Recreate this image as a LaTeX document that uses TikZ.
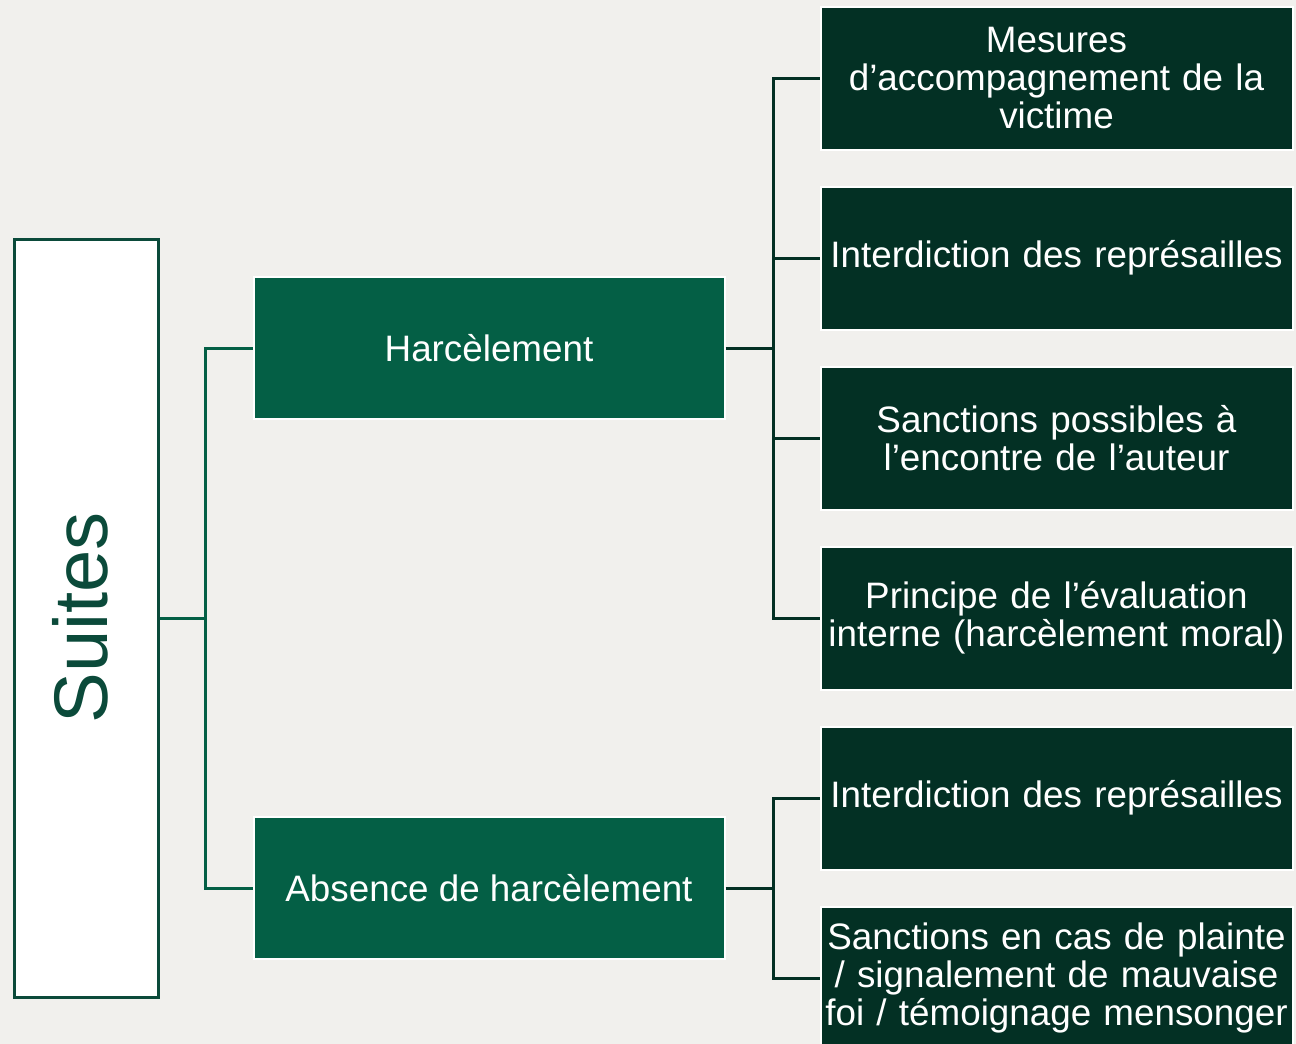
\documentclass[tikz,border=0pt]{standalone}
\usepackage{fontspec}
\setmainfont{Liberation Sans}
\definecolor{bg}{HTML}{F1F0ED}
\definecolor{midgreen}{HTML}{045F45}
\definecolor{darkgreen}{HTML}{033024}
\definecolor{suitegreen}{HTML}{0B4A3A}
\begin{document}
\begin{tikzpicture}[x=1pt,y=-1pt,
  suitesbox/.style={draw=suitegreen,line width=3pt,fill=white,minimum width=144pt,minimum height=758pt,inner sep=0pt},
  midbox/.style={draw=white,line width=2pt,fill=midgreen,minimum width=471pt,minimum height=142pt,inner sep=0pt,text=white,font=\fontsize{36.8}{38}\selectfont},
  rbox/.style={draw=white,line width=2pt,fill=darkgreen,minimum width=472pt,minimum height=143pt,inner sep=0pt,text=white,text width=472pt,align=center,font=\fontsize{36.8}{38}\selectfont},
  lconn/.style={draw=midgreen,line width=3pt},
  rconn/.style={draw=darkgreen,line width=3pt}]
\clip (0,0) rectangle (1296,1044);
\fill[bg] (0,0) rectangle (1296,1044);
\node[suitesbox] (s) at (86,618) {};
\node[rotate=90,text=suitegreen,font=\fontsize{76}{80}\selectfont,inner sep=0pt] (st) at (80,618) {Suites};
\node[midbox] (h) at (489,348) {Harcèlement};
\node[midbox] (a) at (489,888) {Absence de harcèlement};
\node[rbox] (r1) at (1056.5,78) {Mesures\\d’accompagnement de la\\victime};
\node[rbox] (r2) at (1056.5,258) {Interdiction des représailles};
\node[rbox] (r3) at (1056.5,438) {Sanctions possibles à\\l’encontre de l’auteur};
\node[rbox] (r4) at (1056.5,618) {Principe de l’évaluation\\interne (harcèlement moral)};
\node[rbox] (r5) at (1056.5,798) {Interdiction des représailles};
\node[rbox] (r6) at (1056.5,978) {Sanctions en cas de plainte\\/ signalement de mauvaise\\foi / témoignage mensonger};
\coordinate (lj) at (205,618);
\draw[lconn] (s.east) -- (lj);
\draw[lconn] (lj) |- (h.west);
\draw[lconn] (lj) |- (a.west);
\coordinate (hj) at (773,348);
\draw[rconn] (h.east) -- (hj);
\foreach \r in {r1,r2,r3,r4} \draw[rconn] (hj) |- (\r.west);
\coordinate (aj) at (773,888);
\draw[rconn] (a.east) -- (aj);
\foreach \r in {r5,r6} \draw[rconn] (aj) |- (\r.west);
\end{tikzpicture}
\end{document}
